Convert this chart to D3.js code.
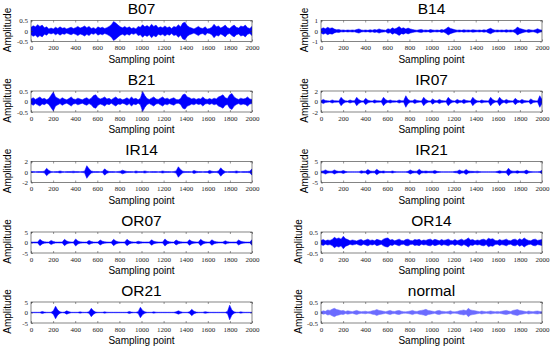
<!DOCTYPE html>
<html>
<head>
<meta charset="utf-8">
<script src="https://cdn.jsdelivr.net/npm/d3@7"></script>
<style>
  body { margin: 0; background: #fff; }
  svg { display: block; }
</style>
</head>
<body>
<svg id="chart" width="550" height="349"></svg>
<script>
// envelope amplitude of each signal, one value per 20 sampling points
const b07 = [0.18,0.25,0.2,0.3,0.22,0.28,0.15,0.2,0.1,0.14, 0.1,0.18,0.12,0.2,0.13,0.16,0.1,0.14,0.18,0.12,
  0.16,0.22,0.14,0.18,0.24,0.16,0.22,0.12,0.16,0.1, 0.2,0.14,0.18,0.12,0.16,0.22,0.3,0.45,0.38,0.28,
  0.2,0.15,0.22,0.14,0.2,0.12,0.16,0.1,0.22,0.18, 0.3,0.2,0.26,0.18,0.32,0.22,0.28,0.15,0.2,0.16,
  0.24,0.16,0.2,0.12,0.22,0.18,0.3,0.2,0.38,0.42, 0.25,0.18,0.14,0.1,0.16,0.22,0.14,0.12,0.2,0.1,
  0.12,0.18,0.32,0.2,0.24,0.14,0.2,0.28,0.16,0.12, 0.22,0.28,0.18,0.14,0.24,0.2,0.28,0.16,0.12,0.22];
const b14 = [0.2,0.3,0.22,0.35,0.25,0.3,0.18,0.12,0.15,0.08, 0.1,0.06,0.1,0.07,0.1,0.08,0.14,0.2,0.1,0.07,
  0.1,0.06,0.12,0.08,0.14,0.1,0.2,0.12,0.1,0.07, 0.22,0.15,0.3,0.2,0.28,0.42,0.25,0.3,0.18,0.28,
  0.2,0.14,0.1,0.07,0.12,0.15,0.08,0.1,0.06,0.14, 0.1,0.07,0.1,0.06,0.14,0.1,0.22,0.38,0.25,0.18,
  0.12,0.08,0.1,0.06,0.12,0.08,0.1,0.07,0.12,0.09, 0.07,0.1,0.06,0.12,0.08,0.18,0.26,0.14,0.08,0.1,
  0.07,0.1,0.06,0.12,0.08,0.1,0.07,0.16,0.38,0.25, 0.18,0.12,0.08,0.14,0.1,0.07,0.12,0.22,0.12,0.08];
const b21 = [0.12,0.18,0.1,0.16,0.22,0.12,0.15,0.08,0.14,0.3, 0.45,0.22,0.16,0.1,0.18,0.12,0.08,0.14,0.22,0.12,
  0.1,0.16,0.12,0.08,0.14,0.18,0.1,0.16,0.28,0.32, 0.18,0.12,0.16,0.22,0.12,0.15,0.08,0.16,0.22,0.12,
  0.14,0.08,0.12,0.18,0.1,0.22,0.12,0.15,0.08,0.16, 0.48,0.28,0.14,0.1,0.16,0.22,0.12,0.1,0.16,0.22,
  0.12,0.16,0.1,0.14,0.18,0.1,0.08,0.14,0.32,0.36, 0.22,0.18,0.12,0.16,0.1,0.14,0.12,0.22,0.12,0.1,
  0.14,0.1,0.16,0.12,0.22,0.26,0.32,0.18,0.14,0.32, 0.38,0.22,0.14,0.1,0.16,0.12,0.14,0.22,0.12,0.1];
const ir07 = [0.15,0.4,0.2,0.12,0.1,0.3,0.15,0.12,0.1,0.8, 0.35,0.12,0.1,0.3,0.15,0.12,0.8,0.35,0.12,0.1,
  0.6,0.25,0.12,0.1,0.3,0.15,0.12,0.1,0.8,0.35, 0.12,0.3,0.15,0.12,0.1,0.3,0.15,0.12,1.1,0.4,
  0.15,0.12,0.4,0.2,0.12,0.1,0.8,0.35,0.12,0.1, 0.5,0.2,0.12,0.4,0.2,0.12,0.1,0.8,0.35,0.12,
  0.1,0.4,0.2,0.12,0.4,0.2,0.12,0.1,0.8,0.35, 0.12,0.1,0.3,0.15,0.12,0.1,0.8,0.35,0.12,0.1,
  0.8,0.35,0.12,0.4,0.2,0.12,0.1,0.6,0.25,0.12, 0.4,0.2,0.12,0.1,0.5,0.2,0.12,0.1,1.1,0.4];
const ir14 = [0.08,0.1,0.06,0.1,0.08,0.1,0.15,0.7,0.3,0.1, 0.06,0.1,0.08,0.2,0.1,0.06,0.1,0.08,0.1,0.15,
  0.08,0.1,0.06,0.1,0.15,1.2,0.6,0.2,0.1,0.08, 0.1,0.06,0.1,0.6,0.25,0.1,0.08,0.1,0.06,0.1,
  0.15,0.35,0.2,0.1,0.08,0.1,0.06,0.2,0.1,0.08, 0.1,0.2,0.1,0.06,0.1,0.08,0.1,0.06,0.1,0.2,
  0.1,0.08,0.1,0.06,0.1,0.2,1.0,0.5,0.15,0.1, 0.08,0.1,0.06,0.3,0.15,0.08,0.1,0.06,0.1,0.08,
  0.3,0.15,0.08,0.1,0.2,0.8,0.35,0.1,0.06,0.1, 0.08,0.1,0.2,0.1,0.06,0.1,0.08,0.1,0.15,0.6];
const ir21 = [0.4,0.5,1.0,0.5,0.35,0.4,1.0,0.5,0.3,0.35, 0.7,0.3,0.15,0.12,0.15,0.12,0.12,0.15,0.6,0.35,
  0.4,1.2,0.5,0.35,0.4,1.3,0.5,0.3,0.5,0.25, 0.2,0.2,0.5,0.2,0.12,0.15,0.12,0.12,0.15,0.3,
  1.0,0.5,0.35,0.4,1.3,0.5,0.35,0.5,0.3,0.35, 0.4,0.7,0.3,0.2,0.15,0.12,0.15,0.12,0.15,0.12,
  0.3,0.4,1.0,0.5,0.4,1.2,0.5,0.35,0.3,0.25, 0.4,0.2,0.15,0.12,0.12,0.15,0.12,0.12,0.15,0.3,
  0.6,0.35,0.3,0.4,1.8,0.6,0.4,0.35,0.6,0.3, 0.35,0.4,0.9,0.4,0.2,0.15,0.12,0.12,0.2,0.8];
const or07 = [0.25,0.2,0.25,0.2,1.5,0.7,0.3,0.25,0.2,1.0, 0.5,0.25,0.2,0.25,0.2,1.5,0.7,0.3,0.25,0.2,
  1.7,0.7,0.3,0.25,0.2,0.25,1.0,0.5,0.25,0.2, 0.25,1.2,0.6,0.3,0.25,0.2,0.25,1.5,0.7,0.3,
  0.25,0.2,0.25,1.5,0.7,0.3,0.25,0.2,0.6,0.4, 0.25,0.2,0.25,0.2,1.3,0.6,0.3,0.25,0.2,0.25,
  1.7,0.7,0.3,0.25,0.2,1.2,0.6,0.3,0.25,0.2, 0.25,1.3,0.6,0.3,0.25,0.2,1.5,0.7,0.3,0.25,
  0.2,1.3,0.6,0.3,0.25,0.2,0.25,0.8,0.4,0.25, 0.2,0.25,0.2,1.2,0.6,0.3,0.25,0.2,0.25,1.3];
const or14 = [0.1,0.14,0.08,0.12,0.1,0.14,0.25,0.18,0.22,0.16, 0.3,0.18,0.14,0.08,0.12,0.1,0.07,0.12,0.14,0.08,
  0.12,0.16,0.1,0.12,0.08,0.15,0.12,0.08,0.16,0.2, 0.22,0.12,0.14,0.08,0.12,0.16,0.1,0.08,0.14,0.16,
  0.1,0.08,0.14,0.12,0.15,0.08,0.12,0.1,0.14,0.16, 0.1,0.15,0.12,0.08,0.14,0.1,0.12,0.16,0.1,0.08,
  0.14,0.08,0.12,0.16,0.1,0.14,0.22,0.12,0.14,0.08, 0.12,0.1,0.14,0.16,0.1,0.2,0.16,0.18,0.1,0.08,
  0.14,0.1,0.12,0.16,0.1,0.08,0.14,0.16,0.1,0.18, 0.12,0.22,0.14,0.1,0.08,0.14,0.16,0.1,0.12,0.14];
const or21 = [0.12,0.1,0.12,0.1,0.12,0.5,0.2,0.12,0.1,0.12, 0.8,3.0,1.2,0.3,0.12,0.2,0.8,0.4,0.12,0.1,
  0.12,0.1,0.3,0.15,0.1,0.12,0.3,2.0,0.8,0.2, 0.12,0.1,0.12,0.3,0.15,0.1,0.12,0.1,0.12,0.1,
  0.12,0.1,0.12,0.1,0.5,0.2,0.12,0.1,0.4,2.5, 1.0,0.3,0.12,0.1,0.12,0.3,0.15,0.1,0.12,0.1,
  0.12,0.1,0.12,0.1,0.12,0.3,0.8,0.4,0.12,0.1, 0.12,0.3,1.5,0.6,0.2,0.12,0.1,0.12,0.4,0.2,
  0.12,0.1,0.12,0.1,0.12,0.1,0.12,0.1,0.5,3.5, 1.2,0.3,0.12,0.1,0.3,0.15,0.1,0.12,0.1,0.12];
const normal = [0.04,0.08,0.06,0.12,0.1,0.16,0.2,0.14,0.12,0.08, 0.1,0.05,0.08,0.06,0.04,0.07,0.1,0.06,0.04,0.05,
  0.06,0.03,0.05,0.08,0.1,0.14,0.1,0.08,0.06,0.04, 0.07,0.1,0.06,0.05,0.08,0.1,0.06,0.04,0.03,0.05,
  0.07,0.1,0.06,0.05,0.08,0.1,0.12,0.15,0.1,0.08, 0.06,0.04,0.08,0.1,0.06,0.05,0.03,0.05,0.08,0.04,
  0.03,0.05,0.08,0.1,0.12,0.08,0.2,0.12,0.1,0.08, 0.06,0.04,0.07,0.05,0.03,0.05,0.07,0.05,0.03,0.05,
  0.04,0.06,0.08,0.1,0.07,0.05,0.1,0.12,0.14,0.1, 0.08,0.06,0.04,0.07,0.05,0.04,0.06,0.07,0.05,0.04];

const titles = ["B07", "B14", "B21", "IR07", "IR14", "IR21", "OR07", "OR14", "OR21", "normal"];
const signals = [b07, b14, b21, ir07, ir14, ir21, or07, or14, or21, normal];
const yLimits = [0.5, 1, 0.5, 2, 2, 5, 5, 0.5, 5, 0.5];
const xTicks = [0, 200, 400, 600, 800, 1000, 1200, 1400, 1600, 1800, 2000];

const W = 221, H = 21;
const colX = [31, 321];
const rowY = [20.5, 91, 161.5, 232, 302];

const svg = d3.select("#chart");

titles.forEach((t, i) => {
    const c = i % 2, r = Math.floor(i / 2);
    const env = signals[i];
    const lim = yLimits[i];
    const g = svg.append("g").attr("transform", `translate(${colX[c]},${rowY[r]})`);

    const x = d3.scaleLinear().domain([0, 2000]).range([0, W]);
    const y = d3.scaleLinear().domain([-lim, lim]).range([H, 0]);
    const pos = d3.scaleLinear().domain([0, env.length - 1]).range([0, 2000]);

    g.append("clipPath").attr("id", "clip" + i)
        .append("rect").attr("width", W).attr("height", H);

    // signal band
    const area = d3.area()
        .x((d, k) => x(pos(k)))
        .y0(d => y(-d))
        .y1(d => y(d));
    const col = t === "normal" ? "#6b6bff" : "#0000ff";
    g.append("path")
        .datum(env)
        .attr("clip-path", `url(#clip${i})`)
        .attr("d", area)
        .attr("fill", col)
        .attr("stroke", col)
        .attr("stroke-width", 0.5);

    // axes, matlab style ticks pointing in
    const yTicks = [-lim, 0, lim];
    const ax = [
        g.append("g").attr("transform", `translate(0,${H})`)
            .call(d3.axisBottom(x).tickValues(xTicks).tickSizeInner(-2).tickSizeOuter(0)
                .tickPadding(4).tickFormat(d3.format("d"))),
        g.append("g")
            .call(d3.axisTop(x).tickValues(xTicks).tickSizeInner(-2).tickSizeOuter(0).tickFormat("")),
        g.append("g")
            .call(d3.axisLeft(y).tickValues(yTicks).tickSizeInner(-2).tickSizeOuter(0)
                .tickPadding(3).tickFormat(v => String(v))),
        g.append("g").attr("transform", `translate(${W},0)`)
            .call(d3.axisRight(y).tickValues(yTicks).tickSizeInner(-2).tickSizeOuter(0).tickFormat(""))
    ];
    ax.forEach(a => {
        a.select(".domain").remove();
        a.selectAll("line").attr("stroke", "#333").attr("stroke-width", 0.5);
        a.selectAll("text")
            .attr("font-family", "Liberation Serif, serif")
            .attr("font-size", 7)
            .attr("fill", "#222");
    });

    g.append("rect")
        .attr("width", W).attr("height", H)
        .attr("fill", "none")
        .attr("stroke", "#333")
        .attr("stroke-width", 0.6);

    g.append("text")
        .attr("x", W / 2).attr("y", -6.5)
        .attr("text-anchor", "middle")
        .attr("font-family", "Liberation Sans, Arial, sans-serif")
        .attr("font-size", 15.5)
        .text(t);

    g.append("text")
        .attr("x", W / 2).attr("y", H + 21)
        .attr("text-anchor", "middle")
        .attr("font-family", "Liberation Sans, Arial, sans-serif")
        .attr("font-size", 10)
        .text("Sampling point");

    const off = c === 0 ? 20.5 : (lim === 0.5 ? 19 : 13.5);
    g.append("text")
        .attr("transform", `translate(${-off},${H / 2 - 1}) rotate(-90)`)
        .attr("text-anchor", "middle")
        .attr("font-family", "Liberation Sans, Arial, sans-serif")
        .attr("font-size", 10)
        .text("Amplitude");
});
</script>
</body>
</html>
